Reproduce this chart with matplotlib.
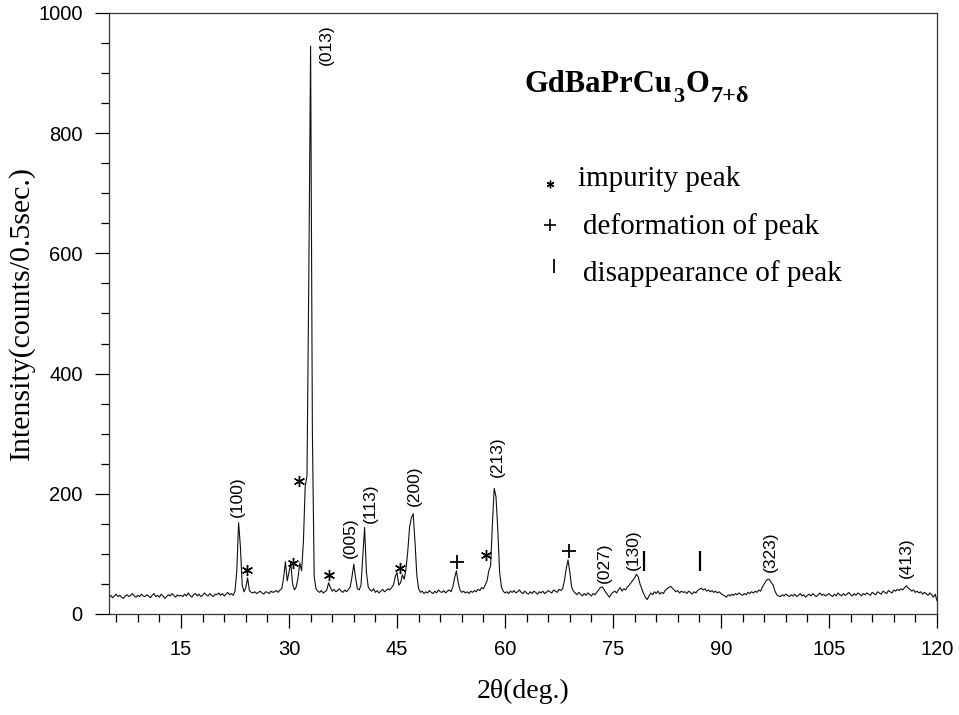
import numpy as np
import matplotlib
matplotlib.use('Agg')
import matplotlib.pyplot as plt
from matplotlib.ticker import MultipleLocator

plt.rcParams['font.family'] = ['Liberation Sans', 'DejaVu Sans']

# scan grid, 0.25 deg step
two_theta = np.round(np.arange(5, 120.01, 0.25), 2)

counts = [
    28, 31, 27, 30, 33, 29, 31, 28, 26, 30, 32, 29, 31, 34, 30, 28, 31, 29, 33, 30,   # 5
    29, 32, 30, 27, 31, 34, 29, 31, 28, 33, 30, 26, 29, 32, 30, 34, 31, 28, 32, 30,   # 10
    31, 29, 33, 30, 35, 31, 28, 32, 34, 30, 33, 29, 31, 35, 32, 30, 34, 31, 29, 33,   # 15
    32, 35, 31, 34, 30, 33, 36, 32, 34, 31, 38, 72, 152, 112, 48, 37, 44, 60, 39, 36,  # 20
    35, 37, 34, 36, 38, 35, 33, 37, 36, 34, 38, 36, 37, 39, 36, 40, 42, 60, 87, 55,   # 25
    70, 85, 50, 40, 45, 60, 85, 72, 120, 212, 230, 560, 945, 300, 62, 42, 38, 36, 39, 35,  # 30
    37, 40, 52, 44, 38, 41, 37, 39, 42, 38, 36, 40, 37, 41, 45, 62, 83, 60, 42, 40,   # 35
    48, 95, 144, 70, 45, 40, 38, 42, 36, 39, 35, 38, 41, 37, 39, 42, 40, 44, 48, 62,  # 40
    69, 48, 52, 65, 58, 75, 105, 145, 160, 167, 120, 65, 42, 36, 38, 34, 37, 35, 39, 36,  # 45
    34, 38, 35, 40, 37, 36, 39, 35, 38, 40, 37, 45, 60, 72, 52, 40, 36, 38, 35, 37,   # 50
    34, 38, 36, 39, 37, 41, 39, 44, 42, 48, 55, 72, 80, 150, 209, 195, 140, 70, 45, 38,  # 55
    35, 37, 34, 38, 36, 39, 35, 37, 40, 36, 34, 38, 35, 33, 37, 34, 38, 36, 33, 37,   # 60
    35, 38, 34, 36, 39, 37, 35, 40, 38, 36, 41, 39, 42, 55, 75, 90, 70, 45, 38, 35,   # 65
    32, 36, 33, 30, 34, 31, 35, 33, 30, 34, 32, 36, 40, 44, 45, 41, 36, 32, 28, 33,   # 70
    36, 38, 35, 40, 44, 38, 42, 40, 45, 48, 52, 56, 60, 66, 62, 50, 42, 34, 28, 24,   # 75
    30, 35, 32, 37, 34, 38, 33, 36, 34, 39, 42, 44, 46, 43, 40, 37, 39, 35, 38, 36,   # 80
    37, 34, 38, 36, 33, 37, 35, 39, 41, 43, 40, 42, 38, 40, 37, 39, 36, 38, 35, 37,   # 85
    34, 32, 30, 28, 32, 30, 33, 31, 34, 32, 35, 33, 31, 34, 32, 36, 34, 37, 35, 38,   # 90
    36, 40, 38, 45, 50, 55, 58, 57, 52, 48, 38, 32, 30, 29, 32, 30, 33, 31, 29, 32,   # 95
    30, 33, 29, 31, 34, 30, 32, 28, 31, 33, 30, 34, 31, 29, 32, 35, 31, 33, 30, 32,   # 100
    34, 31, 29, 33, 30, 35, 32, 30, 34, 31, 33, 36, 32, 30, 34, 31, 35, 33, 30, 34,   # 105
    32, 35, 33, 31, 36, 34, 32, 37, 35, 33, 38, 36, 34, 39, 37, 35, 40, 38, 41, 39,   # 110
    42, 40, 44, 47, 43, 41, 38, 40, 36, 38, 35, 37, 33, 36, 34, 31, 35, 32, 28, 33,   # 115
    22,                                                                                # 120
]

# peak indexing
hkl_labels = ['(100)', '(013)', '(005)', '(113)', '(200)', '(213)', '(027)', '(130)', '(323)', '(413)']
hkl_x = [22.8, 35.2, 38.5, 41.25, 47.35, 58.9, 73.8, 77.8, 96.9, 115.8]
hkl_y = [196, 948, 127, 185, 214, 261, 86, 107, 103, 94]

# markers: impurity (*), deformation (+), disappearance (|)
impurity_x = [24.1, 30.5, 31.4, 35.5, 45.4, 57.4]
impurity_y = [74, 85, 222, 65, 77, 98]
deform_x = [53.3, 68.9]
deform_y = [86, 105]
vanish_x = [79.3, 87.1]
vanish_y = [89, 89]

fig = plt.figure(figsize=(9.59, 7.15), dpi=100)
ax = fig.add_axes([0.11366, 0.14126, 0.86340, 0.84056])

ax.plot(two_theta, counts, color='#111111', lw=0.8)

for lab, x, y in zip(hkl_labels, hkl_x, hkl_y):
    ax.text(x, y, lab, rotation=90, ha='center', va='center', fontsize=12.5)

asterisk = (6, 2, 0)
ax.plot(impurity_x, impurity_y, ls='none', marker=asterisk, ms=8, mew=1.0, color='k')
ax.plot(deform_x, deform_y, ls='none', marker='+', ms=9.5, mew=1.3, color='k')
ax.plot(vanish_x, vanish_y, ls='none', marker='|', ms=14.5, mew=1.6, color='k')

# compound name, built piece by piece so the subscripts keep their size
serif = 'Liberation Serif'
big = dict(family=serif, fontsize=22, fontweight='bold', va='bottom')
small = dict(family=serif, fontsize=16, fontweight='bold', va='bottom')
t1 = ax.text(62.75, 857, 'GdBaPrCu', **big)
t2 = ax.annotate('3', xy=(1, 0), xycoords=t1, xytext=(0.5, -5.5), textcoords='offset points', **small)
t3 = ax.annotate('O', xy=(1, 0), xycoords=(t2, t1), xytext=(1, 0), textcoords='offset points', **big)
ax.annotate('7+δ', xy=(1, 0), xycoords=(t3, t1), xytext=(0.5, -5.5), textcoords='offset points',
            family=serif, fontsize=17.5, fontweight='bold', va='bottom')

# symbol key
ax.plot([66.3], [715], ls='none', marker=asterisk, ms=5.5, mew=1.0, color='k')
ax.plot([66.2], [647], ls='none', marker='+', ms=9, mew=1.2, color='k')
ax.plot([66.85], [579], ls='none', marker='|', ms=9.5, mew=1.3, color='k')
ax.text(70.2, 712, 'impurity peak', family=serif, fontsize=21, va='baseline')
ax.text(70.8, 632, 'deformation of peak', family=serif, fontsize=21, va='baseline')
ax.text(70.8, 554, 'disappearance of peak', family=serif, fontsize=21, va='baseline')

ax.set_xlim(5, 120)
ax.set_ylim(0, 1000)
ax.set_xticks(range(15, 121, 15))
ax.set_yticks(range(0, 1001, 200))
ax.xaxis.set_minor_locator(MultipleLocator(3))
ax.yaxis.set_minor_locator(MultipleLocator(50))
ax.tick_params(which='both', direction='out', top=False, right=False, width=0.9, labelsize=14.5)
ax.tick_params(which='major', length=10, pad=9)
ax.tick_params(which='minor', length=6)
for s in ax.spines.values():
    s.set_linewidth(0.9)
    s.set_color('#333333')

ax.set_xlabel('2θ(deg.)', family=serif, fontsize=20, labelpad=14)
ax.set_ylabel('Intensity(counts/0.5sec.)', family=serif, fontsize=21.5)
ax.yaxis.set_label_coords(-0.09, 0.5)

fig.savefig('out.png', dpi=100)
